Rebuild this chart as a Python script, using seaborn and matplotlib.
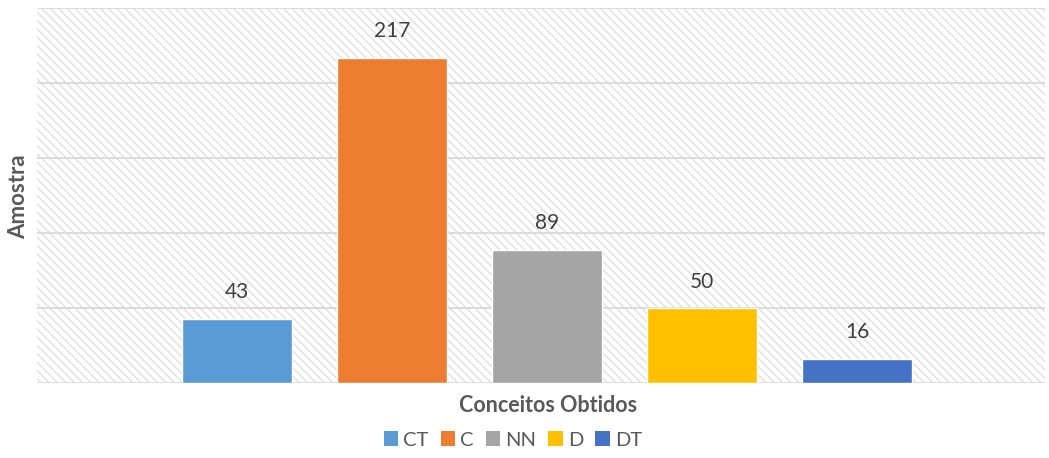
import matplotlib
matplotlib.use("Agg")
import matplotlib.pyplot as plt
from matplotlib.patches import Rectangle, Patch
import pandas as pd
import seaborn as sns

categories = ["CT", "C", "NN", "D", "DT"]
values = [43, 217, 89, 50, 16]
colors = ["#5B9BD5", "#ED7D31", "#A5A5A5", "#FFC000", "#4472C4"]
y_ticks = [0, 50, 100, 150, 200, 250]

sns.set_theme(style="white")
plt.rcParams["font.family"] = ["Lato", "DejaVu Sans"]
plt.rcParams["hatch.linewidth"] = 1.0
plt.rcParams["hatch.color"] = "#e0e0e0"

df = pd.DataFrame({"conceito": categories, "amostra": values})

fig = plt.figure(figsize=(10.49, 4.58), dpi=100)
ax = fig.add_axes([37 / 1049, 75 / 458, 1008 / 1049, 375 / 458])

# hatched plot background
ax.add_patch(Rectangle((0, 0), 1, 1, transform=ax.transAxes, facecolor="white",
                       edgecolor="#e0e0e0", hatch="\\\\\\\\", linewidth=0, zorder=0))

sns.barplot(data=df, x="conceito", y="amostra", hue="conceito", palette=colors,
            order=categories, hue_order=categories, width=0.71, dodge=False,
            legend=False, ax=ax, zorder=3, saturation=1)

for yt in y_ticks:
    ax.axhline(yt, color="#d9d9d9", lw=1.3, zorder=1)

ax.set_ylim(0, 250)
ax.set_xlim(-1.287, 5.21)
ax.set_xticks([])
ax.set_yticks([])
for s in ax.spines.values():
    s.set_visible(False)

for i, v in enumerate(values):
    ax.text(i, v + 11, str(v), ha="center", va="bottom", fontsize=15, color="#404040", zorder=4)

ax.set_xlabel("")
ax.set_ylabel("")
fig.text(548 / 1049, 1 - 405 / 458, "Conceitos Obtidos", ha="center", va="center",
         fontsize=15.5, fontweight="bold", color="#595959")
fig.text(19 / 1049, 1 - 197 / 458, "Amostra", ha="center", va="center", rotation=90,
         fontsize=16, fontweight="bold", color="#595959")

handles = [Patch(facecolor=c, edgecolor="none") for c in colors]
fig.legend(handles, categories, loc="center", bbox_to_anchor=(513 / 1049, 1 - 440 / 458),
           ncol=5, frameon=False, fontsize=14.5, handlelength=0.72, handleheight=0.72,
           handletextpad=0.25, columnspacing=0.6, labelcolor="#595959",
           borderpad=0, borderaxespad=0)

fig.savefig("out.png", dpi=100)
